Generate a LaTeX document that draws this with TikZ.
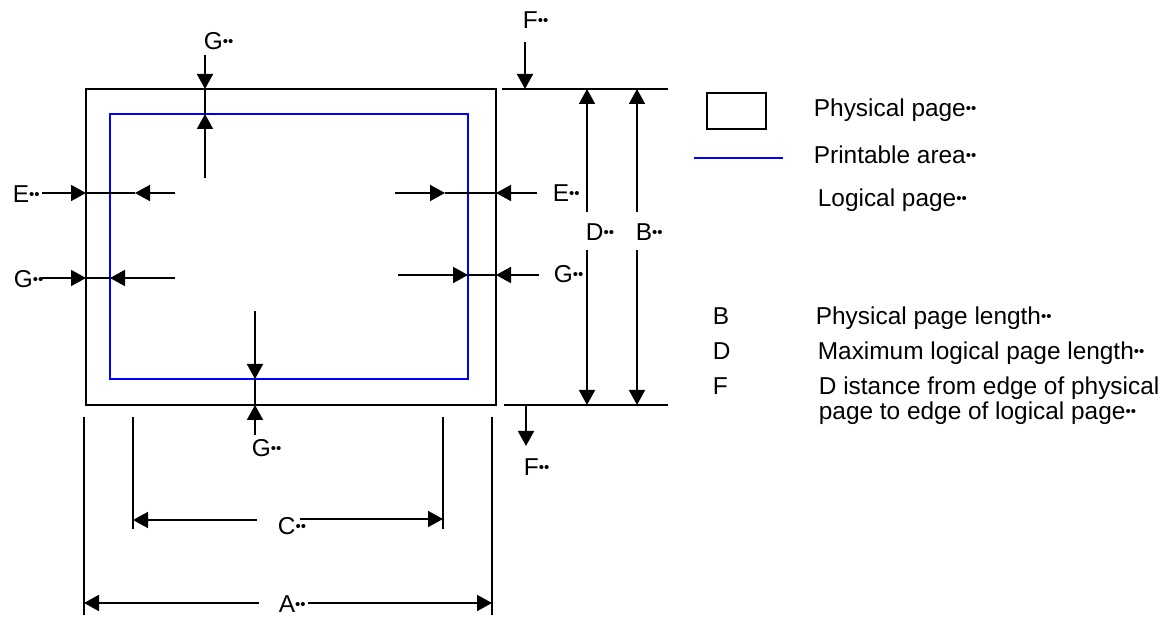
\documentclass[tikz,border=0pt]{standalone}
\usepackage{fontspec}
\setmainfont{Liberation Sans}
\usetikzlibrary{arrows.meta,positioning}
\newcommand{\bb}{{\fontsize{7.5pt}{7.5pt}\selectfont\raisebox{1.6pt}{••}}}

\begin{document}
\begin{tikzpicture}[x=0.5pt,y=-0.5pt,line width=0.9pt,
  tip/.style={-{Triangle[length=7.5pt,width=8pt]}},
  lbl/.style={anchor=base west,inner sep=0pt,font=\fontsize{12.2}{14}\selectfont}]
\useasboundingbox (0,0) rectangle (1173,619);
% physical page and printable area
\draw (86,89) rectangle (496,405);
\draw[blue] (110,114) rectangle (468,379);
% G top
\draw[tip] (205,55) -- (205,89);
\draw (205,89) -- (205,114);
\draw[tip] (205,178) -- (205,114);
% E and G left
\draw[tip] (42,193) -- (86,193);
\draw (86,193) -- (135,193);
\draw[tip] (175,193) -- (135,193);
\draw[tip] (42,278) -- (86,278);
\draw (86,278) -- (110,278);
\draw[tip] (175,278) -- (110,278);
% E and G right
\draw[tip] (395,193) -- (445,193);
\draw (445,193) -- (496,193);
\draw[tip] (537,193) -- (496,193);
\draw[tip] (398,275) -- (468,275);
\draw (468,275) -- (496,275);
\draw[tip] (539,275) -- (496,275);
% G bottom
\draw[tip] (255,311) -- (255,379);
\draw (255,379) -- (255,405);
\draw[tip] (255,435) -- (255,405);
% F
\draw (502,89) -- (668,89);
\draw[tip] (525,42) -- (525,89);
\draw (504,405) -- (668,405);
\draw[tip] (526,405) -- (526,446);
% D and B
\draw[tip] (587,212) -- (587,89);
\draw[tip] (587,250) -- (587,405);
\draw[tip] (637,212) -- (637,89);
\draw[tip] (637,250) -- (637,405);
% C
\draw (133,417) -- (133,529);
\draw (443,417) -- (443,529);
\draw[tip] (257,520) -- (133,520);
\draw[tip] (300,519) -- (443,519);
% A
\draw (84,417) -- (84,615);
\draw (492,417) -- (492,615);
\draw[tip] (259,603) -- (84,603);
\draw[tip] (308,603) -- (492,603);
% labels
\node[lbl] (gtop) at (203,50) {G\bb};
\node[lbl] (eleft) at (12,203) {E\bb};
\node[lbl] (gleft) at (13,288) {G\bb};
\node[lbl] (eright) at (552,202) {E\bb};
\node[lbl] (gright) at (553,283) {G\bb};
\node[lbl] (dlbl) at (585,241) {D\bb};
\node[lbl] (blbl) at (635,241) {B\bb};
\node[lbl] (ftop) at (522,29) {F\bb};
\node[lbl] (fbot) at (523,476) {F\bb};
\node[lbl] (gbot) at (251,457) {G\bb};
\node[lbl] (clbl) at (277,535) {C\bb};
\node[lbl] (albl) at (278,613) {A\bb};
% legend
\draw (707,93) rectangle (766,129);
\draw[blue] (694,158) -- (783,158);
\node[lbl] (physpage) at (813,117) {Physical page\bb};
\node[lbl] (printarea) at (813,164) {Printable area\bb};
\node[lbl] (logpage) at (817,207) {Logical page\bb};
\node[lbl] (keyb) at (712,325) {B};
\node[lbl] (keyd) at (712,360) {D};
\node[lbl] (keyf) at (712,395) {F};
\node[lbl] (txtb) at (815,325) {Physical page length\bb};
\node[lbl] (txtd) at (817,360) {Maximum logical page length\bb};
\node[lbl] (txtf) at (818,395) {D istance from edge of physical};
\node[lbl] (txtf2) at (818,420) {page to edge of logical page\bb};
\end{tikzpicture}
\end{document}
